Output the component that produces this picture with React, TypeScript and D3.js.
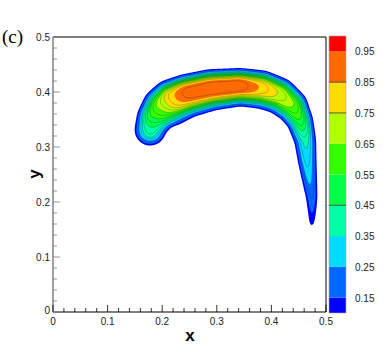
import React, { useEffect, useRef } from 'react';
import * as d3 from 'd3';

// ridge line of the field (where it peaks) in data units
const ridgeX = [0.178, 0.183, 0.196, 0.214, 0.242, 0.288, 0.342, 0.383, 0.416, 0.44, 0.454, 0.463, 0.465, 0.469, 0.473, 0.474, 0.474];
const ridgeY = [0.331, 0.355, 0.375, 0.389, 0.4, 0.409, 0.413, 0.409, 0.396, 0.376, 0.349, 0.313, 0.276, 0.24, 0.209, 0.182, 0.158];
const ridgePeak = [0.42, 0.56, 0.68, 0.82, 0.925, 0.945, 0.945, 0.84, 0.74, 0.66, 0.55, 0.38, 0.33, 0.28, 0.23, 0.18, 0.12];
// distance from the ridge to the outer 0.1 edge: convex side, concave side
const edgeOuter = [0.03, 0.03, 0.033, 0.034, 0.032, 0.032, 0.03, 0.03, 0.03, 0.027, 0.022, 0.019, 0.018, 0.015, 0.012, 0.009, 0.007];
const edgeInner = [0.03, 0.046, 0.051, 0.052, 0.049, 0.044, 0.039, 0.04, 0.037, 0.035, 0.027, 0.022, 0.017, 0.013, 0.01, 0.008, 0.007];

const levels = [0.1, 0.15, 0.25, 0.35, 0.45, 0.55, 0.65, 0.75, 0.85, 0.95];
const levelColors = ['#0000ff', '#0068ff', '#00dcff', '#00ffa6', '#00ff48', '#34ff00', '#b2ff00', '#ffdc00', '#ff6a00', '#ff0000'];
const lineLevels = [0.2, 0.3, 0.35, 0.4, 0.45, 0.5, 0.55, 0.6, 0.65, 0.7, 0.75, 0.8, 0.9];
const legendTicks = [0.15, 0.25, 0.35, 0.45, 0.55, 0.65, 0.75, 0.85, 0.95];
const legendLines = [0.45, 0.75, 0.85];
const axisTicks = [0, 0.1, 0.2, 0.3, 0.4, 0.5];
const axisLabels = ['0', '0.1', '0.2', '0.3', '0.4', '0.5'];

const N = 360;

// flat-topped falloff from the ridge (s = 0) to the 0.1 edge (s = 1)
const logistic = (s: number) => 1 / (1 + Math.exp((s - 0.67) / 0.11));
const profile = (s: number) => (logistic(s) - logistic(1)) / (logistic(0) - logistic(1));

function buildField() {
  const step = 0.5 / N;
  const values = new Float64Array(N * N);
  for (let j = 0; j < N; j++) {
    const py = (j + 0.5) * step;
    for (let i = 0; i < N; i++) {
      const px = (i + 0.5) * step;
      let best = Infinity, bk = 0, bt = 0, bc = 0;
      for (let k = 0; k < ridgeX.length - 1; k++) {
        const ax = ridgeX[k], ay = ridgeY[k];
        const dx = ridgeX[k + 1] - ax, dy = ridgeY[k + 1] - ay;
        const len2 = dx * dx + dy * dy;
        let t = ((px - ax) * dx + (py - ay) * dy) / len2;
        t = Math.max(0, Math.min(1, t));
        const cx = ax + dx * t, cy = ay + dy * t;
        const d2 = (px - cx) ** 2 + (py - cy) ** 2;
        if (d2 < best) {
          best = d2; bk = k; bt = t;
          bc = dx * (py - ay) - dy * (px - ax);
        }
      }
      const lerp = (a: number[]) => a[bk] + (a[bk + 1] - a[bk]) * bt;
      const peak = lerp(ridgePeak);
      const w = bc > 0 ? lerp(edgeOuter) : lerp(edgeInner);
      const s = Math.sqrt(best) / w;
      values[j * N + i] = s <= 1
        ? 0.1 + (peak - 0.1) * profile(s)
        : Math.max(0, 0.1 - (Math.sqrt(best) - w) * 30);
    }
  }
  d3.blur2({ data: values, width: N, height: N }, 3);
  return values;
}

const App = () => {
  const svgRef = useRef<SVGSVGElement>(null);

  useEffect(() => {
    if (!svgRef.current) return;
    const svg = d3.select(svgRef.current);
    svg.selectAll('*').remove();

    const left = 53, right = 326, top = 37, bottom = 312;
    const x = d3.scaleLinear().domain([0, 0.5]).range([left, right]);
    const y = d3.scaleLinear().domain([0, 0.5]).range([bottom, top]);
    const step = 0.5 / N;

    const values = Array.from(buildField());
    const proj = d3.geoTransform({
      point: function (gx: number, gy: number) {
        (this as any).stream.point(x(gx * step), y(gy * step));
      },
    });
    const path = d3.geoPath(proj);

    const fills = d3.contours().size([N, N]).thresholds(levels)(values);
    svg.append('g')
      .selectAll('path')
      .data(fills)
      .enter()
      .append('path')
      .attr('d', d => path(d as any))
      .attr('fill', (d, i) => levelColors[i]);

    const lines = d3.contours().size([N, N]).thresholds(lineLevels)(values);
    svg.append('g')
      .selectAll('path')
      .data(lines)
      .enter()
      .append('path')
      .attr('d', d => path(d as any))
      .attr('fill', 'none')
      .attr('stroke', '#1a1a1a')
      .attr('stroke-opacity', 0.55)
      .attr('stroke-width', 0.5);

    // frame
    svg.append('line').attr('x1', left).attr('x2', right).attr('y1', top).attr('y2', top)
      .attr('stroke', '#000').attr('stroke-width', 1);
    svg.append('line').attr('x1', right).attr('x2', right).attr('y1', top).attr('y2', bottom)
      .attr('stroke', '#000').attr('stroke-width', 1);
    svg.append('line').attr('x1', left).attr('x2', right).attr('y1', bottom).attr('y2', bottom)
      .attr('stroke', '#000').attr('stroke-width', 1.2);
    svg.append('line').attr('x1', left).attr('x2', left).attr('y1', top).attr('y2', bottom)
      .attr('stroke', '#808080').attr('stroke-width', 1.5);

    // ticks (major every 0.1, minor every 0.02)
    const minor = d3.range(0, 0.5001, 0.02).filter(v => Math.abs(v * 10 - Math.round(v * 10)) > 1e-6);
    minor.forEach(v => {
      svg.append('line').attr('x1', x(v)).attr('x2', x(v)).attr('y1', bottom).attr('y2', bottom - 4)
        .attr('stroke', '#000').attr('stroke-width', 0.8);
      svg.append('line').attr('x1', left).attr('x2', left + 4).attr('y1', y(v)).attr('y2', y(v))
        .attr('stroke', '#808080').attr('stroke-width', 0.8);
    });
    axisTicks.forEach((v, i) => {
      svg.append('line').attr('x1', x(v)).attr('x2', x(v)).attr('y1', bottom).attr('y2', bottom - 7)
        .attr('stroke', '#000').attr('stroke-width', 0.8);
      svg.append('line').attr('x1', left).attr('x2', left + 7).attr('y1', y(v)).attr('y2', y(v))
        .attr('stroke', '#808080').attr('stroke-width', 0.8);
      svg.append('text')
        .attr('x', x(v)).attr('y', bottom + 13)
        .attr('text-anchor', 'middle')
        .style('font-family', 'Liberation Sans, Arial, sans-serif')
        .style('font-size', '10px')
        .style('fill', '#222')
        .text(axisLabels[i]);
      svg.append('text')
        .attr('x', left - 3).attr('y', y(v) + (v === 0 ? 2 : 3.5))
        .attr('text-anchor', 'end')
        .style('font-family', 'Liberation Sans, Arial, sans-serif')
        .style('font-size', '10px')
        .style('fill', '#222')
        .text(axisLabels[i]);
    });

    // axis titles
    svg.append('text')
      .attr('x', 190).attr('y', 341)
      .attr('text-anchor', 'middle')
      .style('font-family', 'Liberation Sans, Arial, sans-serif')
      .style('font-size', '17px')
      .style('font-weight', 'bold')
      .text('x');
    svg.append('text')
      .attr('transform', 'translate(40,174) rotate(-90)')
      .attr('text-anchor', 'middle')
      .style('font-family', 'Liberation Sans, Arial, sans-serif')
      .style('font-size', '17px')
      .style('font-weight', 'bold')
      .text('y');
    svg.append('text')
      .attr('x', 2).attr('y', 43)
      .style('font-family', 'Liberation Serif, Times New Roman, serif')
      .style('font-size', '19px')
      .text('(c)');

    // colour bar
    const cb = d3.scaleLinear().domain([0.1, 1.0]).range([313, 36]);
    const cbx = 329, cbw = 17;
    const edges = [...levels, 1.0];
    levelColors.forEach((c, i) => {
      svg.append('rect')
        .attr('x', cbx).attr('y', cb(edges[i + 1]))
        .attr('width', cbw).attr('height', cb(edges[i]) - cb(edges[i + 1]))
        .attr('fill', c);
    });
    svg.append('rect')
      .attr('x', cbx).attr('y', cb(1.0)).attr('width', cbw).attr('height', cb(0.1) - cb(1.0))
      .attr('fill', 'none').attr('stroke', '#b0a0b0').attr('stroke-width', 0.6);
    legendLines.forEach(v => {
      svg.append('line').attr('x1', cbx).attr('x2', cbx + cbw).attr('y1', cb(v)).attr('y2', cb(v))
        .attr('stroke', '#333').attr('stroke-width', 0.8);
    });
    legendTicks.forEach(v => {
      svg.append('text')
        .attr('x', 355).attr('y', cb(v) + 4)
        .style('font-family', 'Liberation Sans, Arial, sans-serif')
        .style('font-size', '10px')
        .style('fill', '#222')
        .text(v.toFixed(2));
    });
  }, []);

  return (
    <svg ref={svgRef} width={390} height={347}
      style={{ position: 'absolute', left: 0, top: 0, background: '#fff' }} />
  );
};

export default App;
